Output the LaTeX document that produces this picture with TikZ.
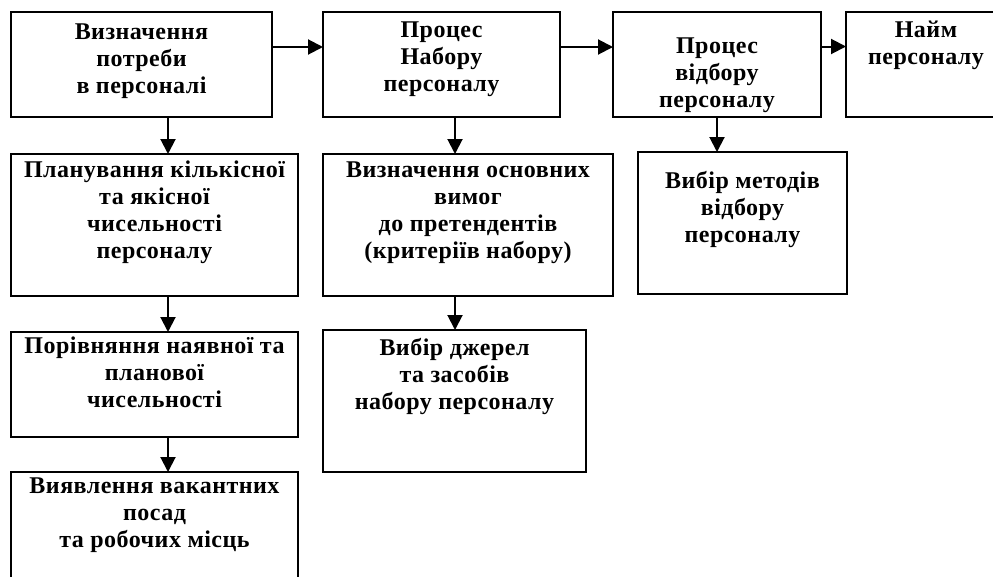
\documentclass[tikz,border=0pt]{standalone}
\usepackage{fontspec}
\setmainfont{Liberation Serif}[LetterSpace=2]
\usetikzlibrary{arrows.meta}
\newcommand\bxtext[4]{\parbox[t][#2pt][t]{#1pt}{\fontsize{24}{27}\selectfont\bfseries\centering\rule{0pt}{#3pt}#4\par}}
\tikzset{
  box/.style={draw=black, line width=1.3pt, inner sep=0pt, outer sep=0pt, anchor=north west},
  arr/.style={line width=2pt, -{Triangle[width=15pt,length=15pt]}}
}
\begin{document}
\begin{tikzpicture}[x=1pt,y=1pt]
\clip (0,0) rectangle (993,-576);
\fill[white] (0,0) rectangle (993,-576);
% top row
\node[box] (A) at (11,-12) {\bxtext{261}{105}{27}{Визначення\\потреби\\в персоналі}};
\node[box] (B) at (323,-12) {\bxtext{237}{105}{25}{Процес\\Набору\\персоналу}};
\node[box] (C) at (613,-12) {\bxtext{208}{105}{41}{Процес\\відбору\\персоналу}};
\node[box] (D) at (846,-12) {\bxtext{160}{105}{25}{Найм\\персоналу}};
% second row
\node[box] (E) at (11,-154) {\bxtext{287}{142}{23}{Планування кількісної\\та якісної\\чисельності\\персоналу}};
\node[box] (F) at (323,-154) {\bxtext{290}{142}{23}{Визначення основних\\вимог\\до претендентів\\(критеріїв набору)}};
\node[box] (G) at (638,-152) {\bxtext{209}{142}{36}{Вибір методів\\відбору\\персоналу}};
% third row
\node[box] (H) at (11,-332) {\bxtext{287}{105}{21}{Порівняння наявної та\\планової\\чисельності}};
\node[box] (I) at (323,-330) {\bxtext{263}{142}{25}{Вибір джерел\\та засобів\\набору персоналу}};
% fourth row
\node[box] (J) at (11,-472) {\bxtext{287}{140}{21}{Виявлення вакантних\\посад\\та робочих місць}};
% columns for vertical connectors
\coordinate (colL) at (168,0);
\coordinate (colM) at (455,0);
\coordinate (colR) at (717,0);
% horizontal connectors
\draw[arr] ([yshift=17.5pt]A.east) -- ([yshift=17.5pt]B.west);
\draw[arr] ([yshift=17.5pt]B.east) -- ([yshift=17.5pt]C.west);
\draw[arr] ([yshift=18pt]C.east) -- ([yshift=18pt]D.west);
% vertical connectors
\draw[arr] (A.south -| colL) -- (E.north -| colL);
\draw[arr] (E.south -| colL) -- (H.north -| colL);
\draw[arr] (H.south -| colL) -- (J.north -| colL);
\draw[arr] (B.south -| colM) -- (F.north -| colM);
\draw[arr] (F.south -| colM) -- (I.north -| colM);
\draw[arr] (C.south -| colR) -- (G.north -| colR);
\end{tikzpicture}
\end{document}
